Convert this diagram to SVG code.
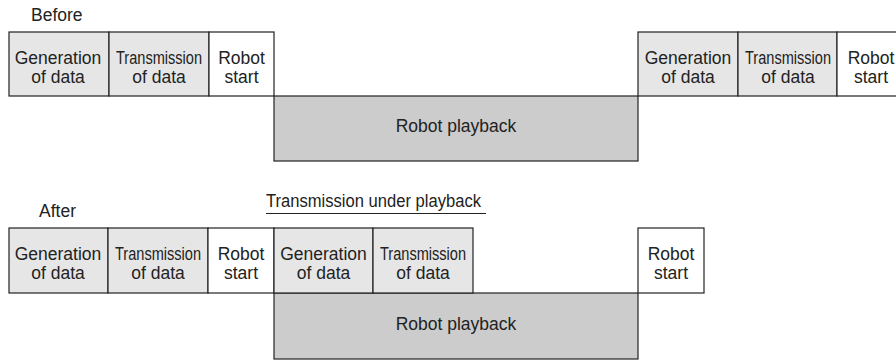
<svg xmlns="http://www.w3.org/2000/svg" width="896" height="360" viewBox="0 0 896 360">
  <style>
    .box { stroke: #222; stroke-width: 1.2; }
    .data { fill: #e6e6e6; }
    .start { fill: #ffffff; }
    .play { fill: #cccccc; }
    text { font-family: "Liberation Sans", Arial, sans-serif; font-size: 17.5px; fill: #222; text-anchor: middle; }
    .title { text-anchor: start; }
  </style>
  <rect width="896" height="360" fill="#ffffff"/>

  <!-- Before timeline -->
  <text class="title" x="31" y="21">Before</text>

  <g id="before-gen-1">
    <rect class="box data" x="9" y="32" width="100" height="64"/>
    <text x="58" y="64">Generation</text>
    <text x="58" y="83">of data</text>
  </g>
  <g id="before-trans-1">
    <rect class="box data" x="109" y="32" width="100" height="64"/>
    <text x="159" y="64" textLength="86" lengthAdjust="spacingAndGlyphs">Transmission</text>
    <text x="159" y="83">of data</text>
  </g>
  <g id="before-start-1">
    <rect class="box start" x="209" y="32" width="65" height="64"/>
    <text x="241.5" y="64">Robot</text>
    <text x="241.5" y="83">start</text>
  </g>
  <g id="before-playback">
    <rect class="box play" x="274" y="96" width="364" height="65"/>
    <text x="456" y="132">Robot playback</text>
  </g>
  <g id="before-gen-2">
    <rect class="box data" x="638" y="32" width="100" height="64"/>
    <text x="688" y="64">Generation</text>
    <text x="688" y="83">of data</text>
  </g>
  <g id="before-trans-2">
    <rect class="box data" x="738" y="32" width="99" height="64"/>
    <text x="788" y="64" textLength="86" lengthAdjust="spacingAndGlyphs">Transmission</text>
    <text x="788" y="83">of data</text>
  </g>
  <g id="before-start-2">
    <rect class="box start" x="837" y="32" width="70" height="64"/>
    <text x="871" y="64">Robot</text>
    <text x="871" y="83">start</text>
  </g>

  <!-- After timeline -->
  <text class="title" x="39" y="217">After</text>

  <g id="label-transmission-under-playback">
    <text class="title" x="266" y="207" textLength="215" lengthAdjust="spacingAndGlyphs">Transmission under playback</text>
    <line x1="266" y1="213.5" x2="486" y2="213.5" stroke="#222" stroke-width="1.2"/>
  </g>

  <g id="after-gen-1">
    <rect class="box data" x="9" y="228" width="99" height="65"/>
    <text x="58" y="260">Generation</text>
    <text x="58" y="279">of data</text>
  </g>
  <g id="after-trans-1">
    <rect class="box data" x="108" y="228" width="100" height="65"/>
    <text x="158" y="260" textLength="86" lengthAdjust="spacingAndGlyphs">Transmission</text>
    <text x="158" y="279">of data</text>
  </g>
  <g id="after-start-1">
    <rect class="box start" x="208" y="228" width="66" height="65"/>
    <text x="241" y="260">Robot</text>
    <text x="241" y="279">start</text>
  </g>
  <g id="after-playback">
    <rect class="box play" x="274" y="293" width="364" height="66"/>
    <text x="456" y="330">Robot playback</text>
  </g>
  <g id="after-gen-2">
    <rect class="box data" x="274" y="228" width="99" height="65"/>
    <text x="323.5" y="260">Generation</text>
    <text x="323.5" y="279">of data</text>
  </g>
  <g id="after-trans-2">
    <rect class="box data" x="373" y="228" width="100" height="65"/>
    <text x="423" y="260" textLength="86" lengthAdjust="spacingAndGlyphs">Transmission</text>
    <text x="423" y="279">of data</text>
  </g>
  <g id="after-start-2">
    <rect class="box start" x="638" y="228" width="66" height="65"/>
    <text x="671" y="260">Robot</text>
    <text x="671" y="279">start</text>
  </g>

  <g id="connectors"></g>
</svg>
